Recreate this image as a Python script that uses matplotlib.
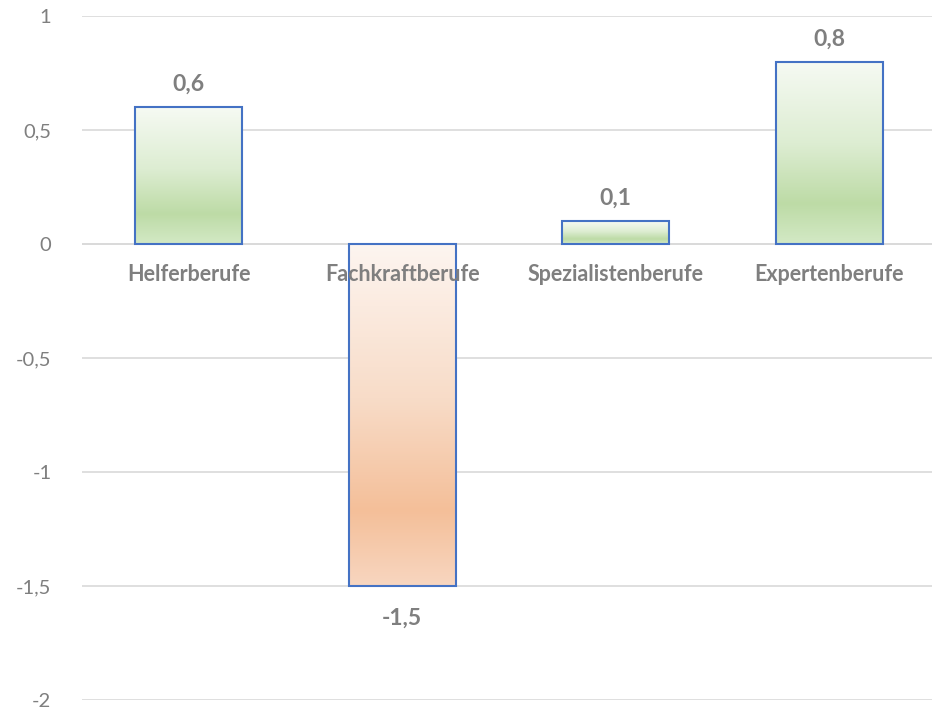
import numpy as np
import matplotlib.pyplot as plt
from matplotlib.colors import LinearSegmentedColormap

# === Data ===
categories = ["Helferberufe", "Fachkraftberufe", "Spezialistenberufe", "Expertenberufe"]
values = [0.6, -1.5, 0.1, 0.8]
value_labels = ["0,6", "-1,5", "0,1", "0,8"]
yticks = [1, 0.5, 0, -0.5, -1, -1.5, -2]
ytick_labels = ["1", "0,5", "0", "-0,5", "-1", "-1,5", "-2"]

plt.rcParams['font.family'] = ['Lato', 'DejaVu Sans']

# gradients top -> bottom (Excel style)
green = LinearSegmentedColormap.from_list(
    "g", [(0, "#F6FAF3"), (0.45, "#DDEDD2"), (0.78, "#BDDBA6"), (1, "#D3E9C5")])
orange = LinearSegmentedColormap.from_list(
    "o", [(0, "#FDF5F0"), (0.45, "#F8DCC8"), (0.78, "#F4BF99"), (1, "#F8D6C0")])

fig = plt.figure(figsize=(9.32, 7.11), dpi=100)
ax = fig.add_axes([82 / 932, 11 / 711, 854 / 932, 684 / 711])

x = np.arange(len(categories))
bars = ax.bar(x, values, width=0.5, facecolor="none", edgecolor="#4472C4",
              linewidth=1.5, zorder=3)

grad = np.linspace(0, 1, 256).reshape(-1, 1)
for b, v in zip(bars, values):
    x0, y0 = b.get_x(), b.get_y()
    w, h = b.get_width(), b.get_height()
    lo, hi = min(y0, y0 + h), max(y0, y0 + h)
    im = ax.imshow(grad, cmap=green if v >= 0 else orange, aspect="auto",
                   extent=[x0, x0 + w, lo, hi], origin="upper", zorder=2,
                   interpolation="bilinear")
    im.set_clip_path(b)

ax.set_xlim(-0.5, 3.5)
ax.set_ylim(-2, 1)

# value labels
for xi, v, lab in zip(x, values, value_labels):
    off = 0.1 if v >= 0 else -0.14
    ax.text(xi, v + off, lab, ha="center", va="center", fontsize=16.5,
            fontweight="bold", color="#7F7F7F")

# category labels just below zero line
for xi, c in zip(x, categories):
    ax.text(xi, -0.135, c, ha="center", va="center", fontsize=15.5,
            fontweight="bold", color="#7F7F7F", zorder=4)

ax.set_yticks(yticks)
ax.set_yticklabels(ytick_labels)
ax.set_xticks([])
ax.tick_params(axis="y", length=0, pad=22, labelsize=14.5, labelcolor="#7F7F7F")
ax.grid(axis="y", color="#D9D9D9", linewidth=1.2, zorder=0)
ax.set_axisbelow(True)
ax.axhline(0, color="#D9D9D9", linewidth=1.2, zorder=1)
for s in ax.spines.values():
    s.set_visible(False)

plt.savefig("out.png", dpi=100)
